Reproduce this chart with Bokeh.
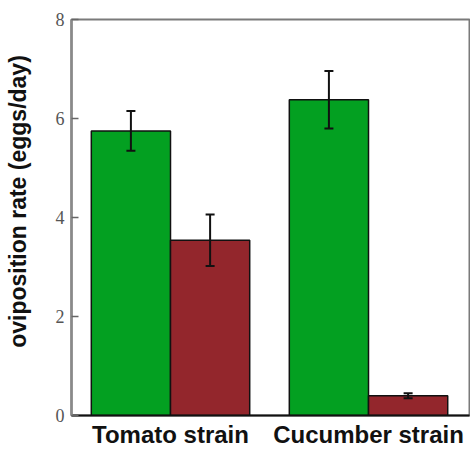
import math
from bokeh.plotting import figure
from bokeh.models import ColumnDataSource, Whisker, FixedTicker, Range1d, TeeHead
from bokeh.embed import file_html
from bokeh.resources import INLINE

categories = ["Tomato strain", "Cucumber strain"]
green_values = [5.75, 6.38]
green_errors = [0.40, 0.58]
red_values = [3.54, 0.40]
red_errors = [0.52, 0.05]
y_ticks = [0, 2, 4, 6, 8]
y_label = "oviposition rate (eggs/day)"

GREEN = "#03a021"
RED = "#93262c"

p = figure(width=470, height=450, output_backend="svg", toolbar_location=None,
           x_range=Range1d(-0.5, 1.51), y_range=Range1d(0, 8),
           min_border_left=71, min_border_right=1, min_border_top=19, min_border_bottom=33)
p.background_fill_color = "white"
p.border_fill_color = "white"
p.xgrid.visible = False
p.ygrid.visible = False
p.outline_line_color = "#7a7a7a"
p.outline_line_width = 2

idx = list(range(len(categories)))
bw = 0.4
gsrc = ColumnDataSource(dict(x=[i - bw / 2 for i in idx], top=green_values,
                             lo=[v - e for v, e in zip(green_values, green_errors)],
                             hi=[v + e for v, e in zip(green_values, green_errors)]))
rsrc = ColumnDataSource(dict(x=[i + bw / 2 for i in idx], top=red_values,
                             lo=[v - e for v, e in zip(red_values, red_errors)],
                             hi=[v + e for v, e in zip(red_values, red_errors)]))

p.vbar(x="x", top="top", bottom=0, width=bw, source=gsrc, fill_color=GREEN,
       line_color="#111111", line_width=1.5)
p.vbar(x="x", top="top", bottom=0, width=bw, source=rsrc, fill_color=RED,
       line_color="#111111", line_width=1.5)

for src in (gsrc, rsrc):
    w = Whisker(base="x", lower="lo", upper="hi", source=src, line_color="#111111", line_width=2,
                level="overlay",
                upper_head=TeeHead(size=9, line_width=2, line_color="#111111"),
                lower_head=TeeHead(size=9, line_width=2, line_color="#111111"))
    p.add_layout(w)

# y axis
p.yaxis.ticker = FixedTicker(ticks=y_ticks)
p.yaxis.minor_tick_line_color = None
p.yaxis.major_tick_in = 7
p.yaxis.major_tick_out = 0
p.yaxis.major_tick_line_color = "#666666"
p.yaxis.major_tick_line_width = 1.5
p.yaxis.axis_line_color = "#8a8a8a"
p.yaxis.axis_line_width = 2.5
p.yaxis.major_label_text_font = "Liberation Serif"
p.yaxis.major_label_text_font_size = "18px"
p.yaxis.major_label_text_color = "#555555"
p.yaxis.major_label_standoff = 7
p.yaxis.axis_label = "\u00a0" * 5 + y_label
p.yaxis.axis_label_text_font = "Liberation Sans"
p.yaxis.axis_label_text_font_style = "bold"
p.yaxis.axis_label_text_font_size = "23px"
p.yaxis.axis_label_text_color = "#111111"
p.yaxis.axis_label_standoff = 22

# x axis
p.xaxis.ticker = FixedTicker(ticks=idx)
p.xaxis.major_label_overrides = {i: c for i, c in zip(idx, categories)}
p.xaxis.minor_tick_line_color = None
p.xaxis.major_tick_line_color = None
p.xaxis.major_tick_in = 0
p.xaxis.major_tick_out = 0
p.xaxis.axis_line_color = "#111111"
p.xaxis.axis_line_width = 2
p.xaxis.major_label_text_font = "Liberation Sans"
p.xaxis.major_label_text_font_style = "bold"
p.xaxis.major_label_text_font_size = "24px"
p.xaxis.major_label_text_color = "#111111"
p.xaxis.major_label_standoff = 5

open("out.html", "w").write(file_html(p, INLINE))
